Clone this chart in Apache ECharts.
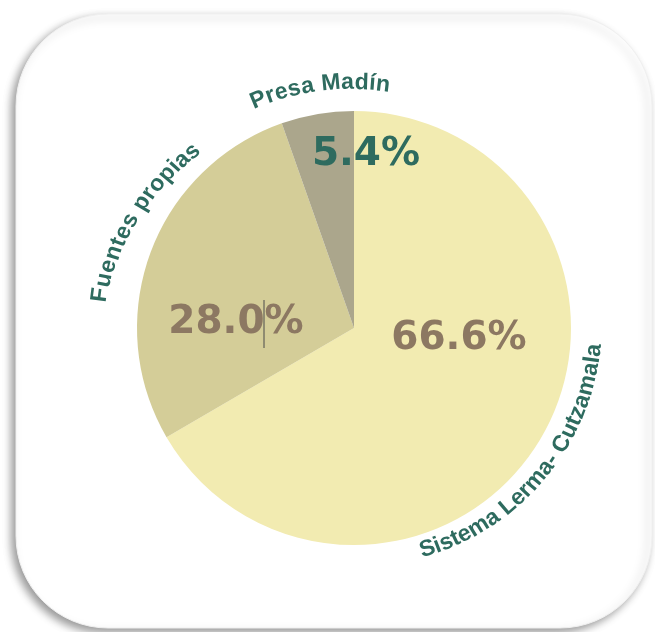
<!DOCTYPE html>
<html>
<head>
<meta charset="utf-8">
<script src="https://cdn.jsdelivr.net/npm/echarts@6/dist/echarts.min.js"></script>
<style>
  html, body { margin: 0; padding: 0; background: #fff; }
  #chart { width: 655px; height: 632px; }
</style>
</head>
<body>
<div id="chart"></div>
<script>
// datos (porcentaje del abastecimiento)
var categories = ['Sistema Lerma- Cutzamala', 'Fuentes propias', 'Presa Madín'];
var values = [66.6, 28.0, 5.4];
var colors = ['#f2ebb1', '#d4cd98', '#aba68c'];
var labelColors = ['#8c7862', '#8c7862', '#2e6b5f'];

// posicion del pastel
var cx = 354, cy = 328, R = 217;
// centro de cada porcentaje
var pctPos = [[459, 339], [236, 323], [366, 155]];
// texto curvo: [angulo ini, angulo fin, radio ini, radio fin, sentido]
var arcLabels = [
    [161.6, 95.3, 233, 241, -1],
    [-82.6, -42.5, 256, 239, 1],
    [-22.8, 6.8, 247, 245, 1]
];

var nameFont = 'bold 23px "Liberation Sans", Arial, sans-serif';
var pctFont = '"DejaVu Sans", sans-serif';

var ctx = document.createElement('canvas').getContext('2d');
ctx.font = nameFont;

function arcText(str, a) {
    var cum = 0, cs = [];
    for (var i = 0; i < str.length; i++) {
        var w = ctx.measureText(str[i]).width;
        cs.push(cum + w / 2);
        cum += w;
    }
    var first = cs[0], last = cs[cs.length - 1];
    var out = [];
    for (var j = 0; j < str.length; j++) {
        if (str[j] === ' ') continue;
        var t = (cs[j] - first) / (last - first);
        var th = (a[0] + (a[1] - a[0]) * t) * Math.PI / 180;
        var r = a[2] + (a[3] - a[2]) * t;
        out.push({
            type: 'text',
            x: cx + r * Math.sin(th),
            y: cy - r * Math.cos(th),
            rotation: a[4] > 0 ? -th : Math.PI - th,
            z: 50,
            style: {
                text: str[j],
                font: nameFont,
                fill: '#2e6b5f',
                align: 'center',
                verticalAlign: 'middle'
            }
        });
    }
    return out;
}

var graphics = [{
    type: 'rect',
    shape: { x: 16, y: 14, width: 636, height: 614, r: 92 },
    z: -10,
    style: {
        fill: '#fff',
        stroke: '#f0f0f0',
        lineWidth: 1,
        shadowBlur: 8,
        shadowOffsetX: -4,
        shadowOffsetY: 4,
        shadowColor: 'rgba(0,0,0,0.4)'
    }
}, {
    type: 'line',
    shape: { x1: 264, y1: 300, x2: 264, y2: 348 },
    z: 100,
    style: { stroke: '#4a4a4a', lineWidth: 1 }
}];
for (var k = 0; k < categories.length; k++) {
    graphics = graphics.concat(arcText(categories[k], arcLabels[k]));
}

var chart = echarts.init(document.getElementById('chart'));
chart.setOption({
    backgroundColor: '#fff',
    animation: false,
    graphic: graphics,
    series: [{
        type: 'pie',
        center: [cx, cy],
        radius: R,
        startAngle: 90,
        clockwise: true,
        z: 5,
        data: categories.map(function (c, i) {
            return {
                name: c,
                value: values[i],
                itemStyle: { color: colors[i] },
                label: { color: labelColors[i] }
            };
        }),
        label: {
            show: true,
            position: 'inside',
            formatter: function (p) { return p.value.toFixed(1) + '%'; },
            fontFamily: pctFont,
            fontWeight: 'bold',
            fontSize: 39
        },
        labelLine: { show: false },
        labelLayout: function (p) {
            var pos = pctPos[p.dataIndex];
            return { x: pos[0], y: pos[1], align: 'center', verticalAlign: 'middle' };
        }
    }]
});
</script>
</body>
</html>
